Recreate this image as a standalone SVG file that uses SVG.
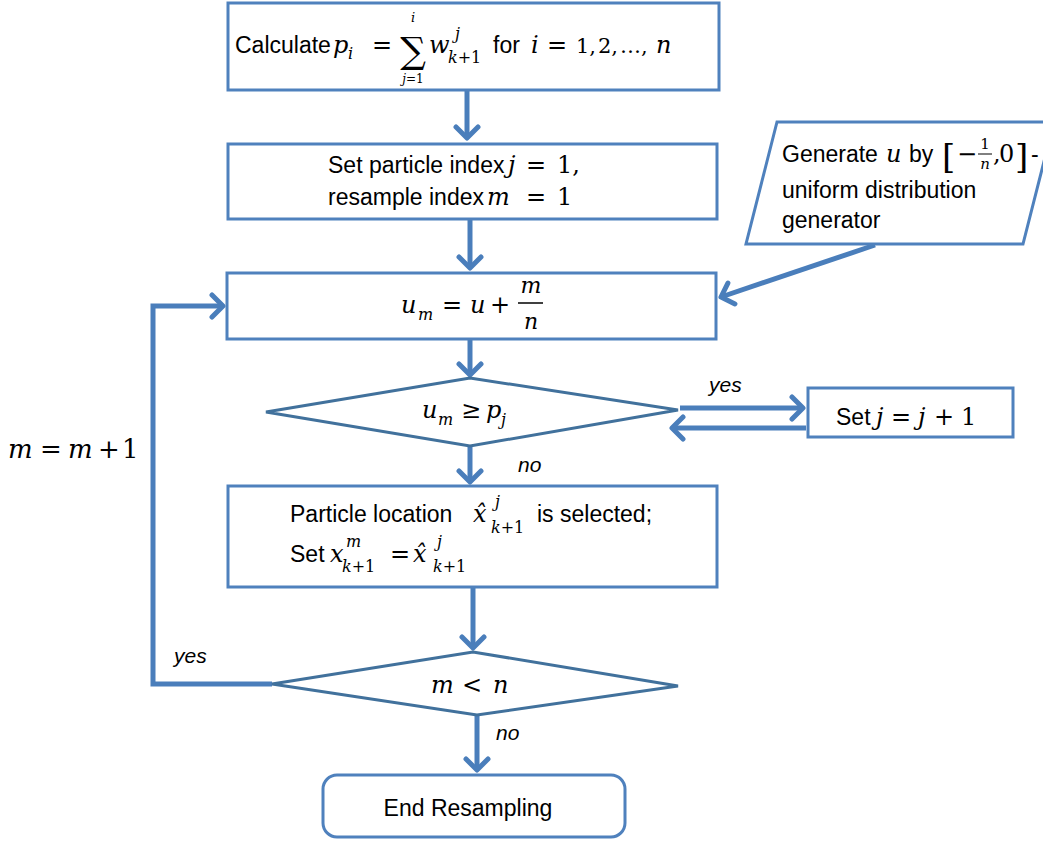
<svg xmlns="http://www.w3.org/2000/svg" width="1043" height="841" viewBox="0 0 1043 841">
<style>
.box{fill:#fff;stroke:#4F81BD;stroke-width:3}
.dia{fill:#fff;stroke:#41719C;stroke-width:3}
.con{fill:none;stroke:#4A7EBB;stroke-width:5}
.t{font-family:"Liberation Sans",Arial,sans-serif;font-size:23px;fill:#000}
.lbl{font-family:"Liberation Sans",Arial,sans-serif;font-size:21px;font-style:italic;fill:#000}
.m{font-family:"DejaVu Serif","Liberation Serif",serif;font-size:24px;fill:#000}
.mi{font-family:"DejaVu Serif","Liberation Serif",serif;font-size:24px;font-style:italic;fill:#000}
.ms{font-family:"DejaVu Serif","Liberation Serif",serif;font-size:16px;font-style:italic;fill:#000}
.mr{font-family:"DejaVu Serif","Liberation Serif",serif;font-size:16px;fill:#000}
</style>
<defs>
<marker id="ah" markerUnits="userSpaceOnUse" viewBox="0 0 18 28" markerWidth="18" markerHeight="28" refX="14" refY="14" orient="auto">
<path d="M3,3 L14,14 L3,25" fill="none" stroke="#4A7EBB" stroke-width="5" stroke-linecap="round" stroke-linejoin="round"/>
</marker>
</defs>
<g id="connectors">
<line class="con" x1="467" y1="90" x2="467" y2="138" marker-end="url(#ah)"/>
<line class="con" x1="470" y1="219" x2="470" y2="268" marker-end="url(#ah)"/>
<line class="con" x1="470" y1="339" x2="470" y2="375" marker-end="url(#ah)"/>
<line class="con" x1="875" y1="245" x2="721" y2="297" marker-end="url(#ah)"/>
<line class="con" x1="680" y1="408" x2="803" y2="408" marker-end="url(#ah)"/>
<line class="con" x1="806" y1="428" x2="672" y2="428" marker-end="url(#ah)"/>
<line class="con" x1="470" y1="447" x2="470" y2="482" marker-end="url(#ah)"/>
<line class="con" x1="473" y1="587" x2="473" y2="648" marker-end="url(#ah)"/>
<polyline class="con" points="272,684 153,684 153,306 223,306" marker-end="url(#ah)"/>
<line class="con" x1="477" y1="715" x2="477" y2="770" marker-end="url(#ah)"/>
<text class="lbl" x="709" y="392">yes</text>
<text class="lbl" x="518" y="472">no</text>
<text class="lbl" x="174" y="663">yes</text>
<text class="lbl" x="496" y="740">no</text>
<text class="mi" x="8" y="458" style="font-size:26px">m</text>
<text class="m" x="40" y="458" style="font-size:26px">=</text>
<text class="mi" x="68" y="458" style="font-size:26px">m</text>
<text class="m" x="98" y="458" style="font-size:26px">+</text>
<text class="m" x="122" y="458" style="font-size:26px">1</text>
</g>
<g id="n1">
<rect class="box" x="228" y="3" width="491" height="87"/>
<text class="t" x="235" y="53">Calculate</text>
<text class="mi" x="333" y="53">p</text>
<text class="ms" x="348" y="59">i</text>
<text class="m" x="372" y="53">=</text>
<text x="413" y="63" text-anchor="middle" style="font-family:'DejaVu Serif',serif;font-size:36px">∑</text>
<text class="ms" x="413" y="22" text-anchor="middle" style="font-size:13px">i</text>
<text class="mr" x="413" y="83" text-anchor="middle" style="font-size:12px"><tspan font-style="italic">j</tspan>=1</text>
<text class="mi" x="429" y="53">w</text>
<text class="ms" x="455" y="39">j</text>
<text class="mr" x="448" y="63"><tspan font-style="italic">k</tspan>+1</text>
<text class="t" x="493" y="53">for</text>
<text class="mi" x="531" y="53">i</text>
<text class="m" x="547" y="53">=</text>
<text class="m" x="576" y="53" style="font-size:21px">1,</text>
<text class="m" x="598" y="53" style="font-size:21px">2,</text>
<text class="m" x="620" y="53" style="font-size:21px">…,</text>
<text class="mi" x="656" y="53">n</text>
</g>
<g id="n2">
<rect class="box" x="228" y="144" width="489" height="75"/>
<text class="t" x="328" y="173">Set particle index</text>
<text class="mi" x="508" y="173">j</text>
<text class="m" x="526" y="173">=</text>
<text class="m" x="557" y="173">1,</text>
<text class="t" x="328" y="205">resample index</text>
<text class="mi" x="487" y="205">m</text>
<text class="m" x="526" y="205">=</text>
<text class="m" x="557" y="205">1</text>
</g>
<g id="n3">
<polygon class="box" points="777,122 1054,122 1023,244 746,244"/>
<text class="t" x="782" y="162">Generate</text>
<text class="mi" x="886" y="162">u</text>
<text class="t" x="909" y="162">by</text>
<text class="m" x="942" y="168" style="font-size:34px">[</text>
<text class="m" x="957" y="162">−</text>
<text class="mr" x="985" y="149" text-anchor="middle" style="font-size:15px">1</text>
<line x1="978" y1="154" x2="992" y2="154" stroke="#000" stroke-width="1"/>
<text class="ms" x="985" y="169" text-anchor="middle" style="font-size:15px">n</text>
<text class="m" x="993" y="162">,</text>
<text class="m" x="999" y="162">0</text>
<text class="m" x="1015" y="168" style="font-size:34px">]</text>
<text class="t" x="1031" y="162">-</text>
<text class="t" x="782" y="198">uniform distribution</text>
<text class="t" x="782" y="228">generator</text>
</g>
<g id="n4">
<rect class="box" x="227" y="273" width="489" height="66"/>
<text class="mi" x="401" y="313">u</text>
<text class="ms" x="418" y="320">m</text>
<text class="m" x="442" y="313">=</text>
<text class="mi" x="470" y="313">u</text>
<text class="m" x="490" y="313">+</text>
<text class="mi" x="531" y="293" text-anchor="middle" style="font-size:22px">m</text>
<line x1="518" y1="303" x2="543" y2="303" stroke="#000" stroke-width="1.5"/>
<text class="mi" x="531" y="329" text-anchor="middle" style="font-size:22px">n</text>
</g>
<g id="n5">
<polygon class="dia" points="266,412 470,378 678,410 470,446"/>
<text class="mi" x="422" y="418">u</text>
<text class="ms" x="438" y="425">m</text>
<text class="m" x="461" y="418">≥</text>
<text class="mi" x="486" y="418">p</text>
<text class="ms" x="501" y="425">j</text>
</g>
<g id="n6">
<rect class="box" x="808" y="388" width="205" height="49"/>
<text class="t" x="836" y="425">Set</text>
<text class="mi" x="876" y="425">j</text>
<text class="m" x="891" y="425">=</text>
<text class="mi" x="918" y="425">j</text>
<text class="m" x="934" y="425">+</text>
<text class="m" x="961" y="425">1</text>
</g>
<g id="n7">
<rect class="box" x="228" y="486" width="489" height="101"/>
<text class="t" x="290" y="522">Particle location</text>
<text class="mi" x="473" y="522">x̂</text>
<text class="ms" x="495" y="507">j</text>
<text class="mr" x="491" y="533"><tspan font-style="italic">k</tspan>+1</text>
<text class="t" x="537" y="522">is selected;</text>
<text class="t" x="290" y="562">Set</text>
<text class="mi" x="330" y="562">x</text>
<text class="ms" x="346" y="547">m</text>
<text class="mr" x="342" y="572"><tspan font-style="italic">k</tspan>+1</text>
<text class="m" x="390" y="562">=</text>
<text class="mi" x="413" y="562">x̂</text>
<text class="ms" x="437" y="547">j</text>
<text class="mr" x="433" y="572"><tspan font-style="italic">k</tspan>+1</text>
</g>
<g id="n8">
<polygon class="dia" points="272,684 473,652 678,686 477,715"/>
<text class="mi" x="431" y="693">m</text>
<text class="m" x="462" y="693">&lt;</text>
<text class="mi" x="493" y="693">n</text>
</g>
<g id="n9">
<rect class="box" x="323" y="775" width="302" height="62" rx="14"/>
<text class="t" x="468" y="816" text-anchor="middle">End Resampling</text>
</g>
</svg>
